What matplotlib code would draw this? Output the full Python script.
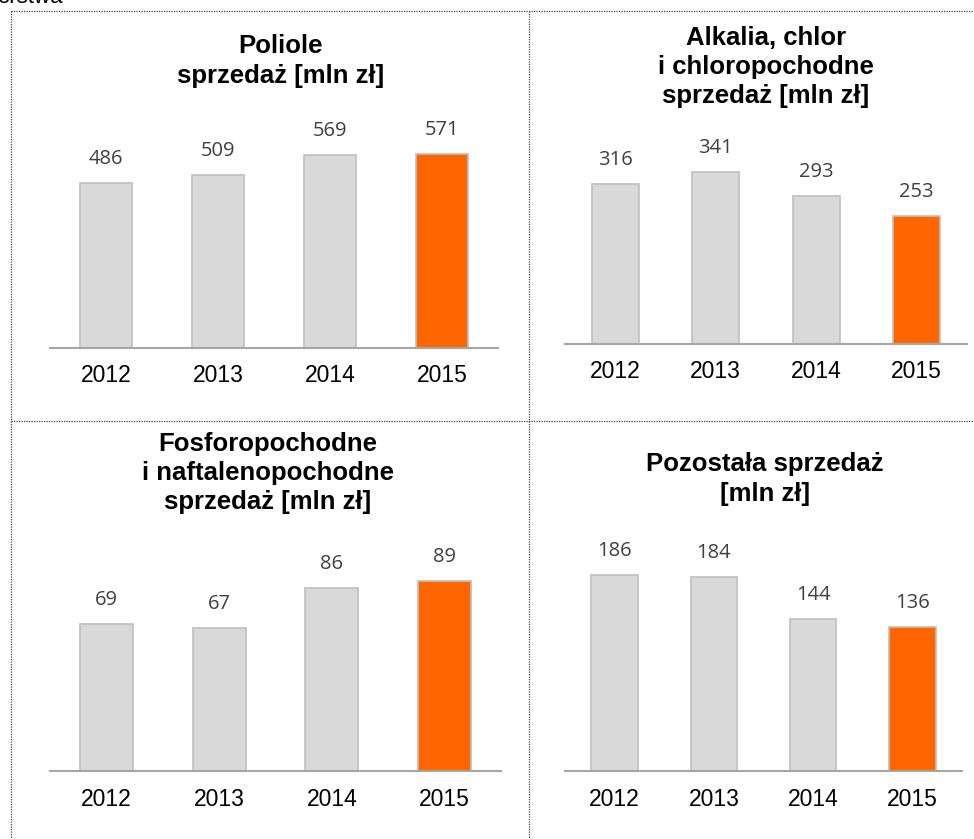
import matplotlib
matplotlib.use('Agg')
import matplotlib.pyplot as plt
from matplotlib.lines import Line2D

# dane
lata = ['2012', '2013', '2014', '2015']
poliole = [486, 509, 569, 571]
alkalia = [316, 341, 293, 253]
fosforo = [69, 67, 86, 89]
pozostala = [186, 184, 144, 136]

tytuly = ['Poliole\nsprzedaż [mln zł]',
          'Alkalia, chlor\ni chloropochodne\nsprzedaż [mln zł]',
          'Fosforopochodne\ni naftalenopochodne\nsprzedaż [mln zł]',
          'Pozostała sprzedaż\n[mln zł]']

SZARY = '#d9d9d9'
POMARANCZ = '#ff6600'
KRAWEDZ = '#bfbfbf'

W, H = 974, 839
fig = plt.figure(figsize=(W / 100, H / 100), dpi=100)


def fx(px):
    return px / W


def fy(py):
    return 1 - py / H


# pozycje osi w pikselach: lewa, prawa, linia bazowa, gora, ylim
panele = [
    (poliole, tytuly[0], (50, 498, 347.7, 100, 729.6), (281, 61)),
    (alkalia, tytuly[1], (565, 967, 343.7, 110, 462.8), (766, 67)),
    (fosforo, tytuly[2], (50, 501, 771, 530, 113.0), (268, 473)),
    (pozostala, tytuly[3], (565, 962, 771, 530, 228.4), (765, 479)),
]

for wartosci, tytul, (x0, x1, yb, yt, ymax), (tx, ty) in panele:
    ax = fig.add_axes([fx(x0), fy(yb), (x1 - x0) / W, (yb - yt) / H])
    kolory = [SZARY] * (len(wartosci) - 1) + [POMARANCZ]
    ax.bar(range(len(lata)), wartosci, width=0.47, color=kolory,
           edgecolor=KRAWEDZ, linewidth=1.2, zorder=2)
    for i, v in enumerate(wartosci):
        ax.annotate(str(v), (i, v), xytext=(0, 24), textcoords='offset pixels',
                    ha='center', va='center', fontsize=14.5,
                    family='Open Sans', color='#404040')
    ax.set_xlim(-0.5, len(lata) - 0.5)
    ax.set_ylim(0, ymax)
    ax.set_xticks(range(len(lata)))
    ax.set_xticklabels(lata, fontsize=16.5, family='Liberation Sans')
    ax.tick_params(axis='x', length=0, pad=12)
    ax.set_yticks([])
    for s in ['top', 'right', 'left']:
        ax.spines[s].set_visible(False)
    ax.spines['bottom'].set_color('#a6a6a6')
    ax.spines['bottom'].set_linewidth(1.5)
    ax.spines['bottom'].set_zorder(3)
    ax.patch.set_alpha(0)

    fig.text(fx(tx), fy(ty), tytul, ha='center', va='center',
             fontsize=18.5, fontweight='bold', family='Liberation Sans',
             linespacing=1.28)

# przerywane linie podzialu
kropki = dict(color='#444444', linewidth=0.9, linestyle=(0, (1, 1)))
fig.add_artist(Line2D([fx(11), fx(11)], [fy(11), 0], **kropki))
fig.add_artist(Line2D([fx(529), fx(529)], [fy(11), 0], **kropki))
fig.add_artist(Line2D([fx(11), 1], [fy(11), fy(11)], **kropki))
fig.add_artist(Line2D([fx(11), 1], [fy(421), fy(421)], **kropki))

# uciety napis u gory
fig.text(fx(-3), fy(3), 'orstwa', ha='left', va='baseline',
         fontsize=16, family='Liberation Sans')

fig.savefig('out.png', dpi=100)
